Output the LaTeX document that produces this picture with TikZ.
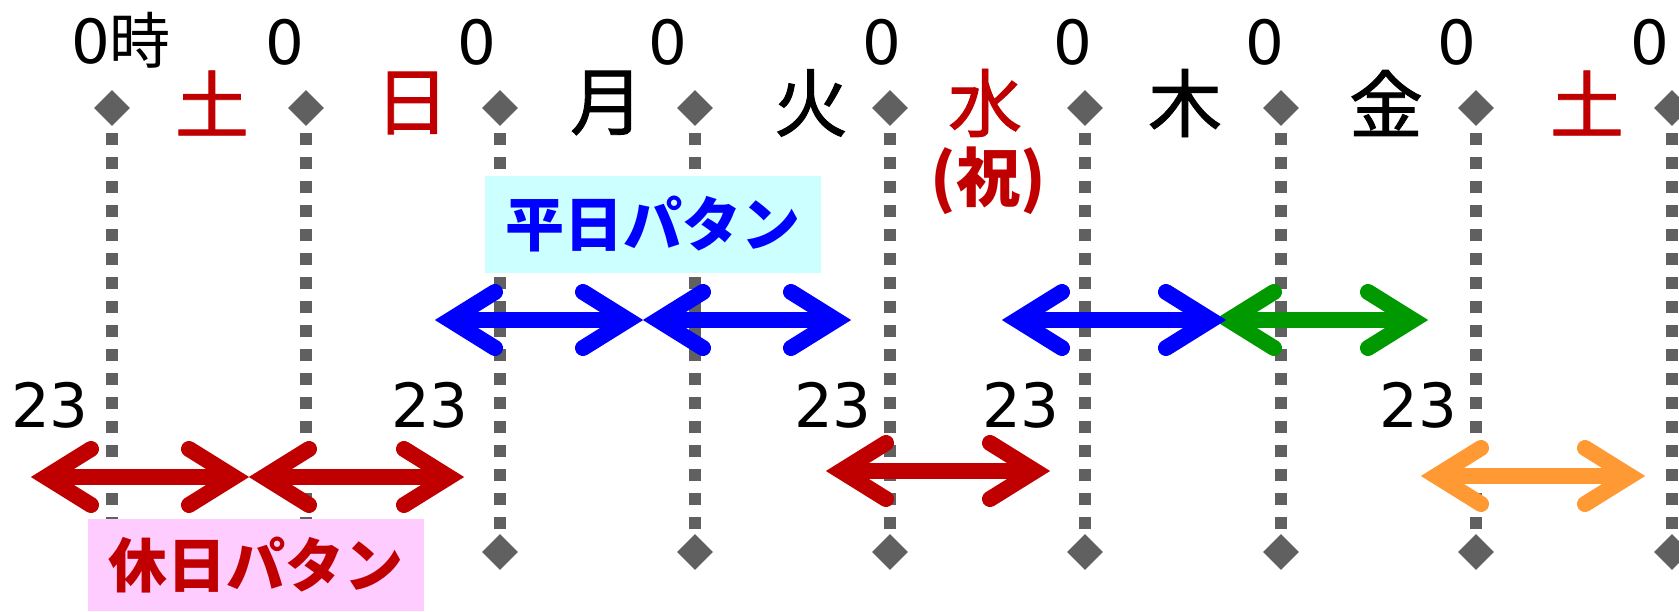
\documentclass[tikz,border=0pt]{standalone}
\usepackage{fontspec}
\newfontfamily\cjk{Noto Sans CJK JP}
\newfontfamily\cjkday[FakeBold=1.2]{Noto Sans CJK JP}
\newfontfamily\dgt{DejaVu Sans}
\usetikzlibrary{arrows.meta,shapes.geometric}
\definecolor{lgray}{RGB}{96,96,96}
\definecolor{dred}{RGB}{192,0,0}
\definecolor{pblue}{RGB}{0,0,255}
\definecolor{pgreen}{RGB}{0,153,0}
\definecolor{porange}{RGB}{255,153,51}
\definecolor{pcyan}{RGB}{204,255,255}
\definecolor{ppink}{RGB}{255,204,255}
\pgfdeclarearrow{
  name = Chev,
  parameters = {\the\pgfarrowlength},
  setup code = {
    \pgfarrowssettipend{0pt}
    \pgfarrowssetlineend{-15pt}
    \pgfarrowssetbackend{-68pt}
    \pgfarrowssavethe\pgfarrowlength
  },
  drawing code = {
    \pgfsetdash{}{+0pt}
    \pgfsetmiterjoin
    \pgfsetroundcap
    \pgfpathmoveto{\pgfqpoint{-60pt}{28pt}}
    \pgfpathlineto{\pgfqpoint{-15pt}{0pt}}
    \pgfpathlineto{\pgfqpoint{-60pt}{-28pt}}
    \pgfusepathqstroke
  }
}
\begin{document}
\begin{tikzpicture}[x=1pt,y=-1pt,
  diam/.style={diamond, fill=lgray, minimum width=36pt, minimum height=36pt, inner sep=0pt},
  vline/.style={lgray, line width=12pt, dash pattern=on 12pt off 12pt, shorten <=7pt, shorten >=5pt},
  hour/.style={font=\dgt\fontsize{61}{61}\selectfont, inner sep=0pt},
  day/.style={font=\cjkday\fontsize{74}{74}\selectfont, inner sep=0pt},
  pat/.style={font=\cjk\bfseries\fontsize{59}{59}\selectfont, inner sep=0pt, minimum width=336pt},
  dblarrow/.style={line width=16pt, Chev-Chev}
]
\useasboundingbox (0,0) rectangle (1679,611);
% day boundaries
\foreach \i/\x in {1/112,2/306,3/500,4/695,5/890,6/1085,7/1281,8/1476,9/1672}{
  \node[diam] (t\i) at (\x,108) {};
  \node[diam] (b\i) at (\x,552) {};
  \draw[vline] (t\i.south) -- (b\i.north);
}
% hour labels
\node[hour] (h1) at (121,40) {0\cjk 時};
\node[hour] (h2) at (285,42.5) {0};
\node[hour] (h3) at (477,42.5) {0};
\node[hour] (h4) at (668,42.5) {0};
\node[hour] (h5) at (882,42.5) {0};
\node[hour] (h6) at (1073,42.5) {0};
\node[hour] (h7) at (1265,42.5) {0};
\node[hour] (h8) at (1457,42.5) {0};
\node[hour] (h9) at (1650,42.5) {0};
% day labels
\node[day, text=dred] (d1) at (212,103) {土};
\node[day, text=dred] (d2) at (412,103) {日};
\node[day] (d3) at (607,103) {月};
\node[day] (d4) at (811,103) {火};
\node[day, text=dred] (d5) at (985,103) {水};
\node[day] (d6) at (1185,103) {木};
\node[day] (d7) at (1386,103) {金};
\node[day, text=dred] (d8) at (1587,103) {土};
\node[font=\cjk\bfseries\fontsize{64}{64}\selectfont, text=dred, inner sep=0pt] (hol) at (988,181) {(祝)};
% 23 labels
\node[hour] (e1) at (50,405) {23};
\node[hour] (e2) at (430,405) {23};
\node[hour] (e3) at (833,405) {23};
\node[hour] (e4) at (1021,405) {23};
\node[hour] (e5) at (1418,405) {23};
% pattern boxes
\node[pat, fill=pcyan, text=pblue, minimum height=97pt] (wk) at (653,224.5) {平日パタン};
\node[pat, fill=ppink, text=dred, minimum height=92pt] (we) at (256,565) {休日パタン};
% arrow end points
\coordinate (r0) at (31,477);
\coordinate (r1) at (249,477);
\coordinate (r2) at (464,477);
\coordinate (u0) at (435,320);
\coordinate (u1) at (643,320);
\coordinate (u2) at (851,320);
\coordinate (u3) at (1002,320);
\coordinate (u4) at (1226,320);
\coordinate (g0) at (1214,320);
\coordinate (g1) at (1428,320);
\coordinate (q0) at (826,471);
\coordinate (q1) at (1050,471);
\coordinate (o0) at (1421,476);
\coordinate (o1) at (1645,476);
% arrows
\draw[dblarrow, dred] (r0) -- (r1);
\draw[dblarrow, dred] (r1) -- (r2);
\draw[dblarrow, pblue] (u0) -- (u1);
\draw[dblarrow, pblue] (u1) -- (u2);
\draw[dblarrow, pgreen] (g0) -- (g1);
\draw[dblarrow, pblue] (u3) -- (u4);
\draw[dblarrow, dred] (q0) -- (q1);
\draw[dblarrow, porange] (o0) -- (o1);
\end{tikzpicture}
\end{document}
